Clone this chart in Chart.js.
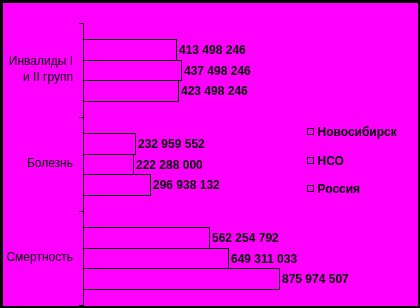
<!DOCTYPE html>
<html>
<head>
<meta charset="utf-8">
<script src="https://cdn.jsdelivr.net/npm/chart.js@4.4.1/dist/chart.umd.min.js"></script>
<style>
  body { margin: 0; background: #000; }
  #wrap {
    width: 415px; height: 303px;
    border-left: 3px solid #000; border-top: 3px solid #000;
    border-right: 2px solid #000; border-bottom: 2px solid #000;
    background: #ff00ff;
  }
</style>
</head>
<body>
<div id="wrap"><canvas id="chart"></canvas></div>
<script>
// categories top to bottom
const categories = [['Инвалиды I', 'и II групп'], 'Болезнь', 'Смертность'];
const seriesNames = ['Новосибирск', 'НСО', 'Россия'];
const novosibirsk = [413498246, 232959552, 562254792];
const nso = [437498246, 222288000, 649311033];
const russia = [423498246, 296938132, 875974507];

const fmt = v => String(v).replace(/\B(?=(\d{3})+(?!\d))/g, ' ');

// snap bars to whole pixels so the 1px outlines stay sharp and touching bars share an edge
const snapBars = {
    id: 'snapBars',
    afterDatasetsUpdate(chart) {
        chart.data.datasets.forEach((ds, i) => {
            chart.getDatasetMeta(i).data.forEach(bar => {
                const top = Math.round(bar.y - bar.height / 2);
                const bottom = Math.round(bar.y + bar.height / 2) + 1;
                bar.height = bottom - top;
                bar.y = top + bar.height / 2;
                bar.x = Math.round(bar.x) + 1;
                bar.base = Math.round(bar.base);
            });
        });
    }
};

// value labels at the end of each bar
const barLabels = {
    id: 'barLabels',
    afterDatasetsDraw(chart) {
        const ctx = chart.ctx;
        ctx.save();
        ctx.font = 'bold 12px "Liberation Sans", Arial, sans-serif';
        ctx.fillStyle = '#000';
        ctx.textAlign = 'left';
        ctx.textBaseline = 'middle';
        chart.data.datasets.forEach((ds, i) => {
            chart.getDatasetMeta(i).data.forEach((bar, j) => {
                ctx.fillText(fmt(ds.data[j]), bar.x + 2, bar.y + 1);
            });
        });
        ctx.restore();
    }
};

// legend on the right, drawn by hand
const sideLegend = {
    id: 'sideLegend',
    afterDraw(chart) {
        const ctx = chart.ctx;
        const x = chart.chartArea.right + 0.5;
        ctx.save();
        ctx.font = 'bold 12px "Liberation Sans", Arial, sans-serif';
        ctx.textBaseline = 'middle';
        chart.data.datasets.forEach((ds, i) => {
            const y = 128 + Math.round(i * 28.7);
            ctx.fillStyle = ds.backgroundColor;
            ctx.fillRect(x, y - 2.5, 6, 6);
            ctx.strokeStyle = '#000';
            ctx.lineWidth = 1;
            ctx.strokeRect(x, y - 2.5, 6, 6);
            ctx.fillStyle = '#000';
            ctx.fillText(ds.label, x + 10, y + 1.5);
        });
        ctx.restore();
    }
};

const makeSet = (label, data) => ({
    label: label,
    data: data,
    backgroundColor: '#ff00ff',
    borderColor: '#000',
    borderWidth: 1,
    borderSkipped: false,
    inflateAmount: 0,
    categoryPercentage: 0.66,
    barPercentage: 1
});

new Chart(document.getElementById('chart'), {
    type: 'bar',
    data: {
        labels: categories,
        datasets: [
            makeSet(seriesNames[0], novosibirsk),
            makeSet(seriesNames[1], nso),
            makeSet(seriesNames[2], russia)
        ]
    },
    options: {
        indexAxis: 'y',
        responsive: true,
        maintainAspectRatio: false,
        animation: false,
        layout: { padding: { top: 20, bottom: 1, left: 0, right: 111 } },
        plugins: { legend: { display: false }, tooltip: { enabled: false } },
        scales: {
            x: { display: false, min: 0, max: 1000000000 },
            y: {
                afterFit(scale) {
                    scale.width = 80;
                    scale.paddingTop = 0;
                    scale.paddingBottom = 0;
                },
                border: { display: true, color: '#000', width: 1 },
                grid: { drawOnChartArea: false, drawTicks: true, tickLength: 4, color: '#000', offset: true },
                ticks: {
                    autoSkip: false,
                    padding: 6,
                    color: '#000',
                    font: { family: '"Liberation Sans", Arial, sans-serif', size: 12, lineHeight: 1.33 }
                }
            }
        }
    },
    plugins: [snapBars, barLabels, sideLegend]
});
</script>
</body>
</html>
